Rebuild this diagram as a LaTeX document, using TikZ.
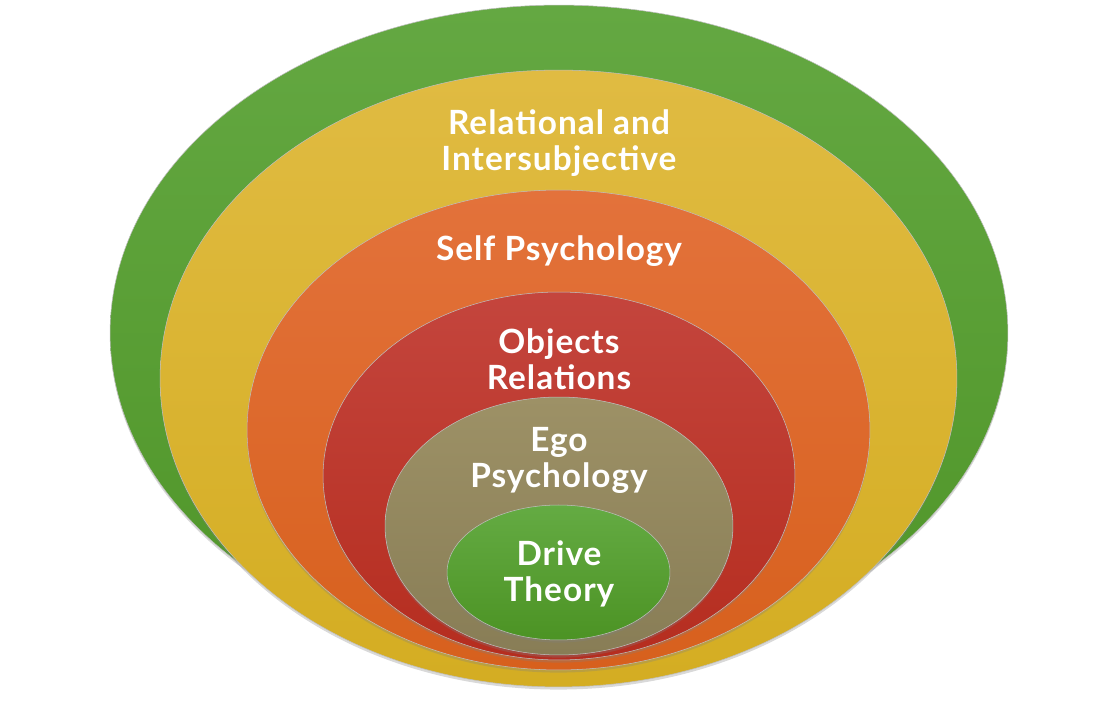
\documentclass[tikz,border=0pt]{standalone}
\usepackage{fontspec}
\setsansfont{Lato}[LetterSpace=3]
\usepackage{xcolor}
\usetikzlibrary{positioning}
\usetikzlibrary{shapes.geometric}
\usetikzlibrary{shadows}

\definecolor{outerTop}{HTML}{64A842}
\definecolor{outerBot}{HTML}{4F9528}
\definecolor{relTop}{HTML}{E0BB42}
\definecolor{relBot}{HTML}{D4AD22}
\definecolor{selfTop}{HTML}{E3723B}
\definecolor{selfBot}{HTML}{D7601D}
\definecolor{objTop}{HTML}{C4453D}
\definecolor{objBot}{HTML}{B52D1F}
\definecolor{egoTop}{HTML}{9D9166}
\definecolor{egoBot}{HTML}{887D56}
\definecolor{driveTop}{HTML}{64AB43}
\definecolor{driveBot}{HTML}{4C9324}

\begin{document}
\begin{tikzpicture}[
  x=0.02cm, y=-0.02cm, % pixel grid of the picture
  ring/.style={
    ellipse,
    inner sep=0pt,
    draw=black!25, line width=0.3pt,
    drop shadow={shadow xshift=0pt, shadow yshift=-1.5pt, opacity=0.3}
  },
  lbl/.style={
    text=white,
    align=center,
    inner sep=0pt,
    font=\sffamily\bfseries\fontsize{19}{20.5}\selectfont
  }
]
\useasboundingbox (0,0) rectangle (1117,702);

% rings, outermost first
\node[ring, top color=outerTop, bottom color=outerBot, minimum width=17.96cm, minimum height=13.12cm] (outer) at (559,333) {};
\node[ring, top color=relTop, bottom color=relBot, minimum width=15.94cm, minimum height=12.34cm] (relational) at (558.5,378.5) {};
\node[ring, top color=selfTop, bottom color=selfBot, minimum width=12.46cm, minimum height=9.6cm] (selfpsy) at (558.5,430) {};
\node[ring, top color=objTop, bottom color=objBot, minimum width=9.44cm, minimum height=7.36cm] (objrel) at (559,476) {};
\node[ring, top color=egoTop, bottom color=egoBot, minimum width=6.96cm, minimum height=5.16cm] (egopsy) at (559,526) {};
\node[ring, top color=driveTop, bottom color=driveBot, minimum width=4.46cm, minimum height=2.7cm] (drive) at (558.5,572.5) {};

% labels
\node[lbl] (relational text) at (559,143) {Relational and\\Intersubjective};
\node[lbl] (selfpsy text) at (559,251) {Self Psychology};
\node[lbl] (objrel text) at (559,359) {Objects\\Relations};
\node[lbl] (egopsy text) at (559,460) {Ego\\Psychology};
\node[lbl] (drive text) at (559,574) {Drive\\Theory};
\end{tikzpicture}
\end{document}
